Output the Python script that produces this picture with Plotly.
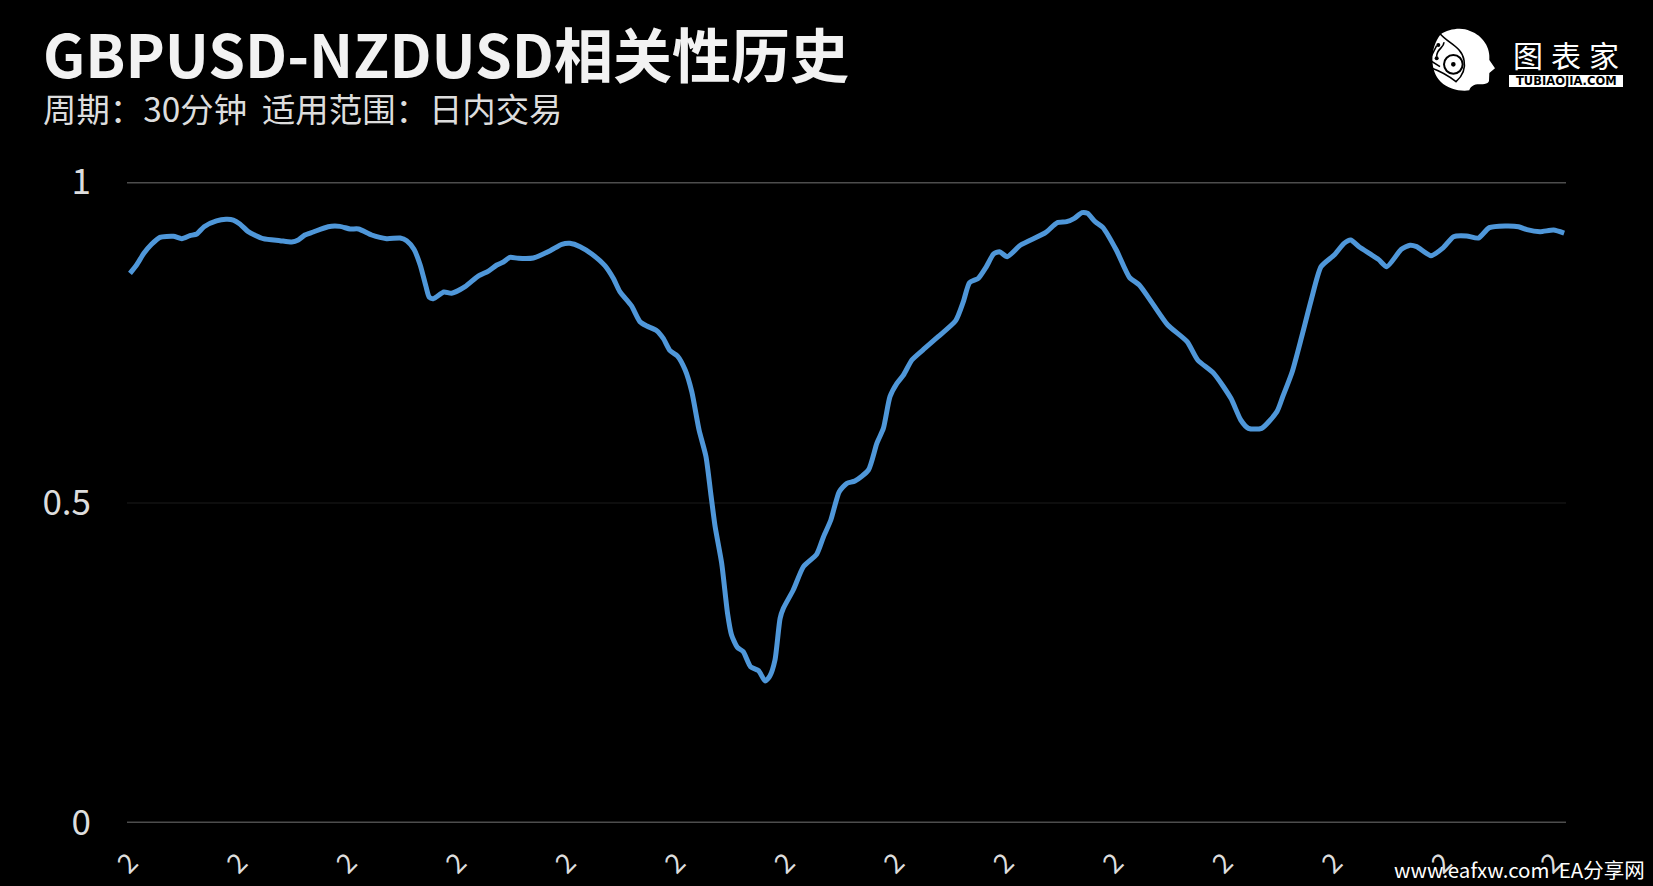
import plotly.graph_objects as go

W, H = 1653, 886
L, R, T, B = 127, 87, 182, 63

title_text = "GBPUSD-NZDUSD相关性历史"
subtitle_text = "周期：30分钟  适用范围：日内交易"
watermark_text = "www.eafxw.com  EA分享网"

sample_index = [0,1.8,3.8,5.9,8.2,11.9,14.2,16.4,18.3,20.3,23.7,26.3,28.3,30.1,32.4,36.5,41.1,44.3,46.1,47.9,
    50.2,54.3,57.5,60.3,62.6,66.2,70.3,74,75.8,77.8,79.5,81.1,82,83.1,86,88.1,91.8,95.4,98.2,100.5,
    102.3,104.1,106.4,110.5,115.1,118.3,120.5,123.3,126.5,130.1,132.4,134.2,137.4,
    139.7,141.6,144.3,146.1,147.95,150,152.1,153.9,155.9,157.8,159.1,160.3,162.1,163.7,164.8,166.4,168,170,172.2,
    174,175.3,176.7,178.1,179,181.7,184.5,188.1,190,192,194.3,196.4,198.6,202.3,204.6,206.4,208.2,210.1,211.9,214.2,
    217.2,221.4,226.2,228.3,230,232.4,234.5,236.6,238.2,240.3,244,250.8,254,256.6,258.7,260.8,262.3,264.4,266.5,
    270.2,273.8,276.5,280.1,284.3,289.6,292.5,296.9,301.6,304.3,306.4,310,314.2,315.8,318.4,321,323.6,326.3,
    329.9,332.6,334.4,336.7,342,344.3,348.3,350.7,352.5,356.4,359.8,362.6,366.2,369.4,372.4,376.7,380.4,382.7,386.3,390,392.9]

correlation = [.8575,.8705,.8887,.9028,.9137,.9152,.9116,.9163,.9189,.9303,.9392,.9418,.9407,.9345,.9225,.9116,.9085,.9064,.9095,.9173,
    .9220,.9303,.9308,.9267,.9267,.9173,.9116,.9126,.9085,.8950,.8705,.8367,.8201,.8180,.8284,.8263,.8367,.8533,.8611,.8705,
    .8752,.8825,.8809,.8814,.8929,.9028,.9043,.8991,.8877,.8695,.8497,.8289,.8066,
    .7821,.7753,.7681,.7561,.7369,.7285,.7067,.6729,.6131,.5715,.5143,.4623,.4051,.3271,.2933,.2740,.2673,.2439,.2376,
    .2215,.2293,.2543,.3193,.3349,.3635,.3999,.4191,.4467,.4727,.5169,.5299,.5335,.5507,.5923,.6157,.6651,.6859,.6989,.7223,
    .7379,.7587,.7837,.8133,.8430,.8497,.8669,.8877,.8913,.8835,.9017,.9210,.9365,.9381,.9433,.9522,.9511,.9381,.9293,
    .8939,.8513,.8393,.8107,.7769,.7509,.7223,.7015,.6625,.6287,.6157,.6157,.6417,.6651,.7041,.7587,.8159,.8679,
    .8861,.9043,.9095,.8991,.8793,.8679,.8950,.9014,.8991,.8851,.8976,.9147,.9158,.9126,.9288,.9314,.9303,.9256,.9225,.9251,.9204]

tick_positions = [0,30,60,90,120,150,180,210,240,270,300,330,360,390]
tick_labels = ["2"] * 14
y_ticks = [0, 0.5, 1]
y_tick_labels = ["0", "0.5", "1"]

CJK = "Noto Sans CJK SC"
PW, PH = W - L - R, H - T - B
def xp(px): return (px - L) / PW
def yp(py): return (H - B - py) / PH

fig = go.Figure(go.Scatter(x=sample_index, y=correlation, mode="lines",
    line=dict(color="#4f97d9", width=5, shape="spline", smoothing=0.6), hoverinfo="skip"))

shapes = []
for v in (0, 1):
    shapes.append(dict(type="line", xref="paper", yref="y", x0=0, x1=1, y0=v, y1=v,
                       line=dict(color="#4d4d4d", width=3), layer="below"))

# logo: head drawn in page pixels, origin of crop (1420,15), scale 1/3
def lp(zx, zy): return xp(1420 + zx / 3), yp(15 + zy / 3)
def path(cmds):
    out = []
    for c in cmds:
        op, pts = c[0], c[1:]
        out.append(op + " ".join(f"{a:.5f},{b:.5f}" for a, b in (lp(*p) for p in pts)))
    return " ".join(out)
head = [("M",(62,58)),("C",(85,42),(125,35),(150,48)),("C",(190,62),(212,100),(208,135)),("L",(225,160)),("L",(208,174)),
        ("L",(207,198)),("C",(205,208),(185,208),(172,208)),("C",(158,210),(150,218),(148,226)),("C",(120,230),(85,222),(62,200)),
        ("C",(30,170),(28,100),(62,58)),("Z",)]
shapes.append(dict(type="path", xref="paper", yref="paper", path=path(head),
                   fillcolor="white", line=dict(width=0), layer="above"))
arc = [("M",(60,56)),("C",(85,85),(125,95),(132,135)),("C",(138,165),(125,185),(108,200)),("C",(95,190),(70,172),(36,160))]
shapes.append(dict(type="path", xref="paper", yref="paper", path=path(arc),
                   line=dict(color="black", width=1.6), layer="above"))
circuit = [("M",(50,92)),("L",(28,135)),("L",(60,155)),("M",(72,82)),("C",(72,100),(50,100),(50,125))]
shapes.append(dict(type="path", xref="paper", yref="paper", path=path(circuit),
                   line=dict(color="black", width=1.6), layer="above"))
def circle(cx, cy, r, fill):
    x0, y0 = lp(cx - r, cy - r); x1, y1 = lp(cx + r, cy + r)
    return dict(type="circle", xref="paper", yref="paper", x0=x0, x1=x1, y0=y0, y1=y1,
                fillcolor=fill, line=dict(width=0), layer="above")
shapes += [circle(100, 148, 31, "black"), circle(100, 148, 25, "white"), circle(100, 148, 7, "black"),
           circle(55, 90, 6, "black"), circle(50, 130, 6, "black")]
shapes.append(dict(type="rect", xref="paper", yref="paper", x0=xp(1509), x1=xp(1623), y0=yp(75), y1=yp(87),
                   fillcolor="white", line=dict(width=0), layer="above"))

def ann(text, px, py, size, color, anchor="left", family=CJK):
    return dict(text=text, x=xp(px), y=yp(py), xref="paper", yref="paper", xanchor=anchor, yanchor="middle",
                showarrow=False, borderpad=0, font=dict(family=family, size=size, color=color))

annotations = [
    ann("<b>" + title_text + "</b>", 42, 52, 59, "#f2f2f2"),
    ann(subtitle_text, 42, 108, 33.4, "#dddddd"),
    ann("图", 1528, 54, 30, "white", "center"),
    ann("表", 1566, 54, 30, "white", "center"),
    ann("家", 1604, 54, 30, "white", "center"),
    ann("<b>TUBIAOJIA.COM</b>", 1566, 81, 11.5, "black", "center", "DejaVu Sans"),
    ann(watermark_text, 1646, 869, 20.5, "white", "right"),
]

fig.update_layout(
    width=W, height=H, margin=dict(l=L, r=R, t=T, b=B, pad=0, autoexpand=False),
    paper_bgcolor="black", plot_bgcolor="black", showlegend=False,
    font=dict(family=CJK, color="#dddddd"),
    shapes=shapes, annotations=annotations,
    xaxis=dict(range=[-0.82, 393.4], tickmode="array", tickvals=tick_positions, ticktext=tick_labels,
               tickangle=-45, showgrid=False, zeroline=False, showline=False, automargin=False,
               ticks="outside", ticklen=12, tickwidth=0, tickcolor="black",
               tickfont=dict(family=CJK, size=27, color="#dddddd")),
    yaxis=dict(range=[0, 1], tickmode="array", tickvals=y_ticks, ticktext=y_tick_labels, automargin=False,
               showgrid=True, gridcolor="#0d0d0d", gridwidth=2, zeroline=False, showline=False,
               ticks="outside", ticklen=28, tickcolor="black", tickwidth=0,
               tickfont=dict(family=CJK, size=35, color="#dddddd")),
)
fig.write_html("out.html", config=dict(displayModeBar=False),
               post_script="document.body.style.margin='0';document.body.style.background='black';")
